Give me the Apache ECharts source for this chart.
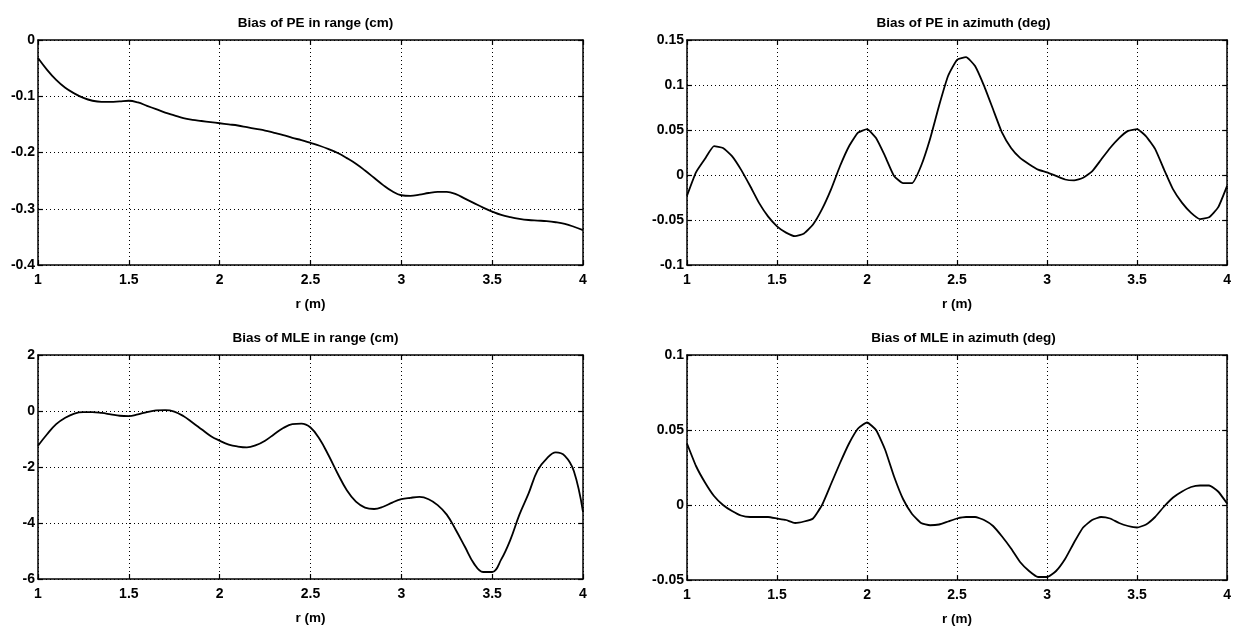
<!DOCTYPE html>
<html>
<head>
<meta charset="utf-8">
<script src="https://cdn.jsdelivr.net/npm/echarts@6/dist/echarts.min.js"></script>
<style>html,body{margin:0;padding:0;background:#fff}#c{width:1234px;height:627px}</style>
</head>
<body>
<div id="c"></div>
<script>
var r = [1.00,1.05,1.10,1.15,1.20,1.25,1.30,1.35,1.40,1.45,1.50,1.55,1.60,1.65,1.70,1.75,1.80,1.85,1.90,1.95,
         2.00,2.05,2.10,2.15,2.20,2.25,2.30,2.35,2.40,2.45,2.50,2.55,2.60,2.65,2.70,2.75,2.80,2.85,2.90,2.95,
         3.00,3.05,3.10,3.15,3.20,3.25,3.30,3.35,3.40,3.45,3.50,3.55,3.60,3.65,3.70,3.75,3.80,3.85,3.90,3.95,4.00];

var titles = ['Bias of PE in range (cm)','Bias of PE in azimuth (deg)','Bias of MLE in range (cm)','Bias of MLE in azimuth (deg)'];
var xAxisName = 'r (m)';

var peRange = [-0.032,-0.053,-0.071,-0.085,-0.095,-0.103,-0.108,-0.110,-0.110,-0.109,-0.108,-0.111,-0.117,-0.123,-0.129,-0.134,-0.139,-0.142,-0.144,-0.146,
               -0.148,-0.150,-0.152,-0.155,-0.158,-0.161,-0.165,-0.169,-0.174,-0.178,-0.183,-0.188,-0.194,-0.201,-0.210,-0.220,-0.232,-0.245,-0.258,-0.269,
               -0.276,-0.277,-0.275,-0.272,-0.270,-0.270,-0.274,-0.282,-0.290,-0.298,-0.305,-0.311,-0.315,-0.318,-0.320,-0.321,-0.322,-0.324,-0.327,-0.332,-0.338];

var peAz = [-0.023,0.003,0.018,0.032,0.030,0.021,0.006,-0.012,-0.031,-0.046,-0.057,-0.064,-0.068,-0.065,-0.055,-0.038,-0.016,0.010,0.032,0.047,
            0.051,0.041,0.021,-0.001,-0.009,-0.009,0.010,0.040,0.077,0.110,0.128,0.131,0.121,0.099,0.073,0.047,0.030,0.019,0.012,0.006,
            0.003,-0.001,-0.005,-0.006,-0.003,0.004,0.017,0.030,0.041,0.049,0.051,0.043,0.029,0.006,-0.016,-0.031,-0.042,-0.049,-0.047,-0.036,-0.012];

var mleRange = [-1.24,-0.83,-0.47,-0.24,-0.09,-0.04,-0.04,-0.07,-0.12,-0.17,-0.18,-0.12,-0.04,0.02,0.03,-0.02,-0.18,-0.41,-0.65,-0.89,
                -1.06,-1.20,-1.27,-1.30,-1.22,-1.06,-0.83,-0.61,-0.47,-0.45,-0.59,-1.00,-1.59,-2.24,-2.83,-3.24,-3.45,-3.50,-3.42,-3.27,
                -3.15,-3.10,-3.07,-3.15,-3.36,-3.70,-4.25,-4.85,-5.45,-5.75,-5.75,-5.30,-4.60,-3.70,-2.95,-2.12,-1.70,-1.48,-1.60,-2.15,-3.60];

var mleAz = [0.041,0.026,0.015,0.006,0.000,-0.004,-0.007,-0.008,-0.008,-0.008,-0.009,-0.010,-0.012,-0.011,-0.009,0.000,0.014,0.028,0.041,0.051,
             0.055,0.050,0.037,0.019,0.004,-0.006,-0.012,-0.0135,-0.013,-0.011,-0.009,-0.008,-0.008,-0.010,-0.014,-0.021,-0.029,-0.038,-0.044,-0.048,
             -0.048,-0.044,-0.036,-0.025,-0.015,-0.010,-0.008,-0.009,-0.012,-0.014,-0.015,-0.013,-0.008,-0.001,0.005,0.009,0.012,0.013,0.013,0.009,0.001];

var yRanges = [[-0.4,0,0.1],[-0.1,0.15,0.05],[-6,2,2],[-0.05,0.1,0.05]];
var seriesVals = [peRange, peAz, mleRange, mleAz];

var grids = [
  {left:38, top:40, width:545, height:225},
  {left:687, top:40, width:543, height:225},
  {left:38, top:355, width:545, height:224},
  {left:687, top:355, width:543, height:225}
];

var FONT = "'Liberation Sans', Arial, sans-serif";
var chart = echarts.init(document.getElementById('c'), null, {renderer:'canvas'});

var option = {
  animation:false,
  backgroundColor:'#fff',
  title:[], grid:[], xAxis:[], yAxis:[], series:[]
};

for (var i = 0; i < 4; i++) {
  var g = grids[i];
  option.grid.push({left:g.left, top:g.top, width:g.width, height:g.height, containLabel:false});
  option.title.push({
    text: titles[i], left: g.left + g.width/2, top: g.top - 29, textAlign:'center',
    textStyle:{fontFamily:FONT, fontWeight:'bold', fontSize:13.5, color:'#000'}
  });
  var lineStyle = {color:'#000', width:1.5};
  option.xAxis.push({
    type:'value', gridIndex:i, min:1, max:4, interval:0.5, position:'bottom',
    name:xAxisName, nameLocation:'middle', nameGap:32,
    nameTextStyle:{fontFamily:FONT, fontWeight:'bold', fontSize:13.5, color:'#000'},
    axisLine:{show:true, lineStyle:lineStyle, onZero:false},
    axisTick:{show:true, inside:true, length:5, lineStyle:{color:'#000', width:1.2}},
    axisLabel:{show:true, margin:8, fontFamily:FONT, fontWeight:'bold', fontSize:14, color:'#000'},
    splitLine:{show:true, lineStyle:{color:'#000', width:1, type:[1,3]}}
  });
  option.xAxis.push({
    type:'value', gridIndex:i, min:1, max:4, interval:0.5, position:'top',
    axisLine:{show:true, lineStyle:lineStyle, onZero:false},
    axisTick:{show:true, inside:true, length:5, lineStyle:{color:'#000', width:1.2}},
    axisLabel:{show:false}, splitLine:{show:false}
  });
  var yr = yRanges[i];
  option.yAxis.push({
    type:'value', gridIndex:i, min:yr[0], max:yr[1], interval:yr[2], position:'left',
    axisLine:{show:true, lineStyle:lineStyle, onZero:false},
    axisTick:{show:true, inside:true, length:5, lineStyle:{color:'#000', width:1.2}},
    axisLabel:{show:true, margin:3, fontFamily:FONT, fontWeight:'bold', fontSize:14, color:'#000'},
    splitLine:{show:true, lineStyle:{color:'#000', width:1, type:[1,3]}}
  });
  option.yAxis.push({
    type:'value', gridIndex:i, min:yr[0], max:yr[1], interval:yr[2], position:'right',
    axisLine:{show:true, lineStyle:lineStyle, onZero:false},
    axisTick:{show:true, inside:true, length:5, lineStyle:{color:'#000', width:1.2}},
    axisLabel:{show:false}, splitLine:{show:false}
  });
  var vals = seriesVals[i];
  var data = [];
  for (var k = 0; k < r.length; k++) data.push([r[k], vals[k]]);
  option.series.push({
    type:'line', xAxisIndex:2*i, yAxisIndex:2*i, data:data,
    showSymbol:false, symbol:'none', smooth:(i===0 || i===2) ? 0.4 : 0.15,
    lineStyle:{color:'#000', width:1.8}, silent:true, clip:true
  });
}

chart.setOption(option);
</script>
</body>
</html>
